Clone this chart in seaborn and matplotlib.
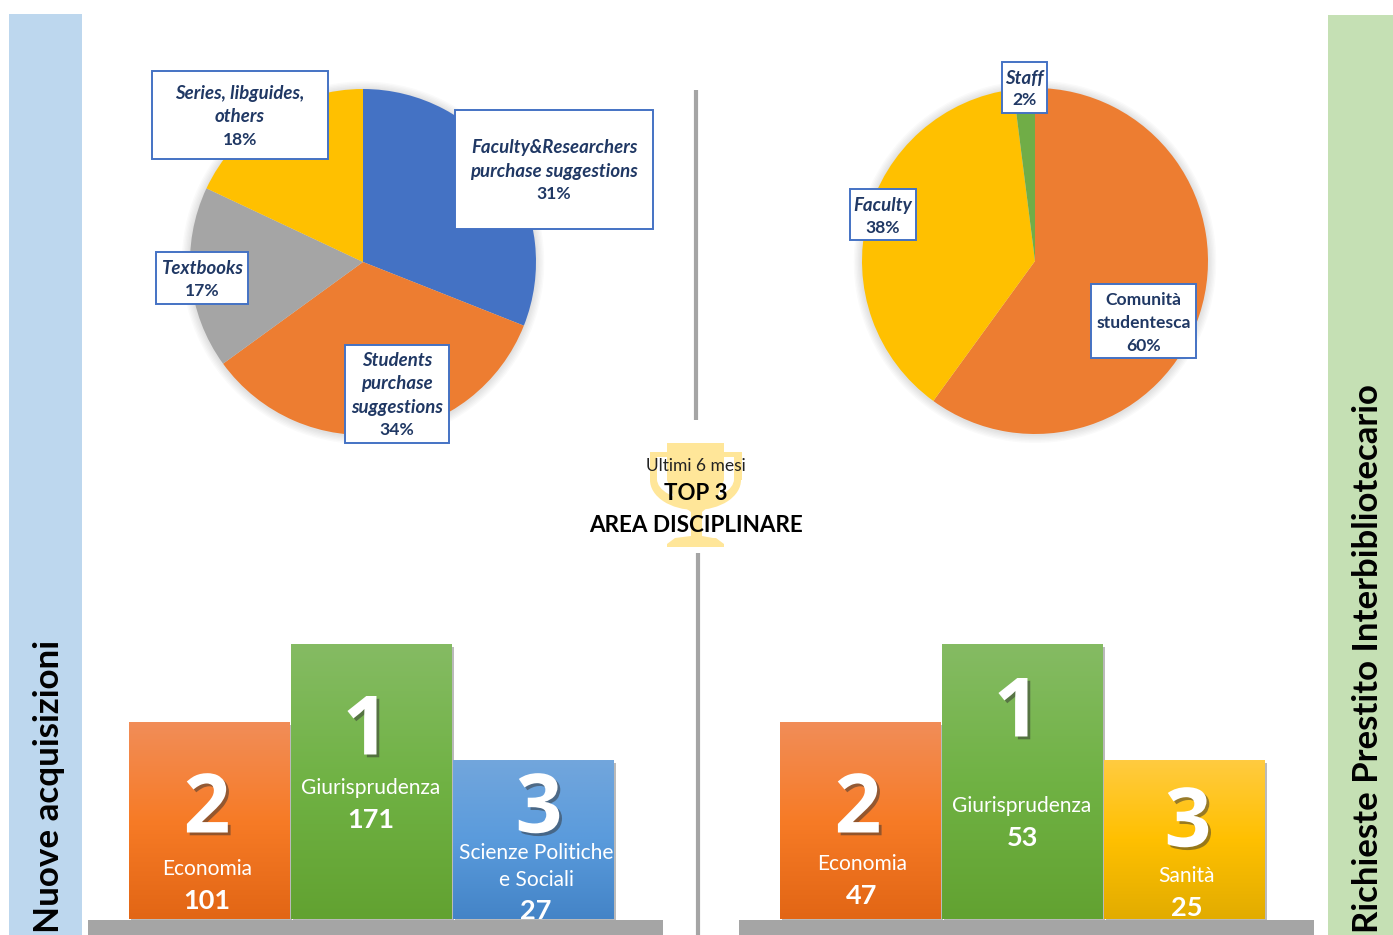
import numpy as np
import pandas as pd
import matplotlib.pyplot as plt
import matplotlib.patheffects as pe
from matplotlib.colors import LinearSegmentedColormap
from matplotlib.patches import Circle, Polygon, Rectangle, Ellipse
import seaborn as sns

# pie data
acq_values = [31, 34, 17, 18]
acq_colors = ["#4472C4", "#ED7D31", "#A5A5A5", "#FFC000"]
ill_values = [60, 38, 2]
ill_colors = ["#ED7D31", "#FFC000", "#70AD47"]

# podium data
acq_areas = ["Economia", "Giurisprudenza", "Scienze Politiche e Sociali"]
acq_counts = [101, 171, 27]
ill_areas = ["Economia", "Giurisprudenza", "Sanità"]
ill_counts = [47, 53, 25]
podium_ranks = ["2", "1", "3"]
podium_levels = [197, 275, 159]

ORANGE = ["#F18D58", "#F77B26", "#E26615"]
GREEN = ["#85BB63", "#70B244", "#62A231"]
BLUE = ["#72A6DC", "#5A9BDC", "#4484C7"]
YELLOW = ["#FFCB40", "#FFC000", "#E2AC00"]

NAVY = "#203864"
BOX_EDGE = "#4472C4"
GREY = "#A5A5A5"
W, H = 1393, 935

sns.set_theme(style="white")
plt.rcParams["font.family"] = ["Lato", "DejaVu Sans"]

fig = plt.figure(figsize=(W / 100, H / 100), dpi=100, facecolor="white")


def px_axes(x0, y0, x1, y1, zorder=1):
    """axes placed with pixel corners, y counted from the top"""
    return fig.add_axes(
        [x0 / W, 1 - y1 / H, (x1 - x0) / W, (y1 - y0) / H], zorder=zorder
    )


def draw_pie(values, colors, cx, cy, r=173):
    pad = 1.12
    ax = px_axes(cx - r * pad, cy - r * pad, cx + r * pad, cy + r * pad)
    # soft shadow
    for k in range(6):
        ax.add_patch(Circle((0, -0.004), 1 + 0.008 * (6 - k), color="#000000", alpha=0.018, lw=0))
    ax.pie(values, colors=colors, startangle=90, counterclock=False, radius=1,
           wedgeprops={"linewidth": 0})
    ax.set_xlim(-pad, pad)
    ax.set_ylim(-pad, pad)
    ax.set_aspect("equal")
    ax.axis("off")


def draw_podium(areas, levels, gradients, x0, x1, bottom=919):
    ax = px_axes(x0, bottom - max(levels), x1, bottom, zorder=2)
    df = pd.DataFrame({"area": areas, "level": levels})
    sns.barplot(data=df, x="area", y="level", hue="area", dodge=False, legend=False,
                palette=[g[1] for g in gradients], saturation=1, width=0.99, linewidth=0, ax=ax)
    ax.set_xlim(-0.5, 2.5)
    ax.set_ylim(0, max(levels))
    for patch, grad in zip(ax.patches, gradients):
        cmap = LinearSegmentedColormap.from_list("bar", grad)
        bx, by = patch.get_x(), patch.get_y()
        bw, bh = patch.get_width(), patch.get_height()
        patch.set_clip_on(False)
        patch.set_path_effects(
            [pe.SimplePatchShadow(offset=(1.5, -2), shadow_rgbFace="#777777", alpha=0.5), pe.Normal()]
        )
        ax.imshow(np.linspace(0, 1, 128).reshape(-1, 1), cmap=cmap, aspect="auto",
                  extent=[bx, bx + bw, by, by + bh], zorder=3)
    ax.set_xlim(-0.5, 2.5)
    ax.set_ylim(0, max(levels))
    ax.axis("off")


draw_pie(acq_values, acq_colors, 363, 262)
draw_pie(ill_values, ill_colors, 1035, 261)
draw_podium(acq_areas, podium_levels, [ORANGE, GREEN, BLUE], 128.5, 614.5)
draw_podium(ill_areas, podium_levels, [ORANGE, GREEN, YELLOW], 779.5, 1265.5)

# overlay in pixel coordinates for everything that is not a chart mark
ov = fig.add_axes([0, 0, 1, 1], zorder=5, facecolor="none")
ov.set_xlim(0, W)
ov.set_ylim(H, 0)
ov.axis("off")

# side bands
ov.add_patch(Rectangle((9, 14), 73, H - 14, color="#BDD7EE", lw=0))
ov.add_patch(Rectangle((1328, 15), 65, H - 15, color="#C5E0B4", lw=0))
ov.text(49, 933, "Nuove acquisizioni", rotation=90, ha="center", va="bottom",
        fontsize=25.2, fontweight="bold", color="black", clip_on=True)
ov.text(1368, 933, "Richieste Prestito Interbibliotecario", rotation=90, ha="center", va="bottom",
        fontsize=25, fontweight="bold", color="black", clip_on=True)

# centre dividers
ov.plot([695.5, 695.5], [90, 420], color=GREY, lw=3, solid_capstyle="butt")
ov.plot([697.5, 697.5], [553, H], color=GREY, lw=3, solid_capstyle="butt")

# trophy
TROPHY = "#FFE699"
ov.add_patch(Ellipse((695.5, 480), 91, 60, color=TROPHY, lw=0))
ov.add_patch(Rectangle((650, 452), 91.5, 28, color=TROPHY, lw=0))
ov.add_patch(Rectangle((657, 457), 77, 22, color="white", lw=0))
ov.add_patch(Ellipse((695.5, 479), 77, 42, color="white", lw=0))
ov.add_patch(Polygon([(667, 443), (724, 443), (724, 480), (716, 500), (702, 512), (702, 536),
                      (713, 538), (716, 538), (724, 544), (724, 547), (667, 547), (667, 544),
                      (675, 538), (691, 536), (691, 512), (675, 500), (667, 480)],
                     color=TROPHY, lw=0))

ov.text(695.5, 466, "Ultimi 6 mesi", ha="center", va="center", fontsize=12.5, color="#222222")
ov.text(696, 493, "TOP 3", ha="center", va="center", fontsize=16, fontweight="bold", color="black")
ov.text(696, 525, "AREA DISCIPLINARE", ha="center", va="center", fontsize=16.2, fontweight="bold", color="black")


def label_box(x0, y0, x1, y1, lines, ys, italic=True):
    ov.add_patch(Rectangle((x0, y0), x1 - x0, y1 - y0, facecolor="white", edgecolor=BOX_EDGE, lw=1.4))
    cx = (x0 + x1) / 2
    for i, (txt, y) in enumerate(zip(lines, ys)):
        is_name = italic and i < len(lines) - 1
        ov.text(cx, y + 1, txt, ha="center", va="center", fontsize=13.4 if is_name else 12.6,
                fontweight="bold", fontstyle="italic" if is_name else "normal", color=NAVY)


label_box(152, 71, 328, 159, ["Series, libguides,", "others", "18%"], [93, 116, 139])
label_box(455, 110, 653, 229, ["Faculty&Researchers", "purchase suggestions", "31%"], [147, 170, 193])
label_box(156, 252, 248, 304, ["Textbooks", "17%"], [267, 290])
label_box(345, 345, 449, 443, ["Students", "purchase", "suggestions", "34%"], [360, 383, 406, 429])
label_box(1002, 62, 1047, 113, ["Staff", "2%"], [77, 99])
label_box(850, 189, 916, 240, ["Faculty", "38%"], [204, 227])
label_box(1091, 284, 1196, 358, ["Comunità", "studentesca", "60%"], [299, 322, 345], italic=False)

# podium text
digit_fx = [pe.withSimplePatchShadow(offset=(2, -2), shadow_rgbFace="#333333", alpha=0.5)]


def podium_text(rank_x, rank_y, rank, cx, area_lines, area_ys, count, count_y):
    ov.text(rank_x, rank_y, rank, ha="center", va="center", fontsize=59, fontweight="bold",
            family=["Open Sans", "DejaVu Sans"], color="white", path_effects=digit_fx)
    for txt, y in zip(area_lines, area_ys):
        ov.text(cx, y + 2, txt, ha="center", va="center", fontsize=15.1, color="white")
    ov.text(cx, count_y + 2, str(count), ha="center", va="center", fontsize=19.5, fontweight="bold", color="white")


podium_text(207, 811, podium_ranks[0], 207, [acq_areas[0]], [867], acq_counts[0], 899)
podium_text(366, 733, podium_ranks[1], 371, [acq_areas[1]], [786], acq_counts[1], 818)
podium_text(539, 811, podium_ranks[2], 536, ["Scienze Politiche", "e Sociali"], [851, 878], acq_counts[2], 909)
podium_text(858, 811, podium_ranks[0], 862, [ill_areas[0]], [862], ill_counts[0], 894)
podium_text(1017, 715, podium_ranks[1], 1022, [ill_areas[1]], [804], ill_counts[1], 836)
podium_text(1188, 825, podium_ranks[2], 1187, [ill_areas[2]], [874], ill_counts[2], 906)

# floors sit over the clipped counts
ov.add_patch(Rectangle((88, 920), 575, 15, color=GREY, lw=0, zorder=6))
ov.add_patch(Rectangle((739, 920), 575, 15, color=GREY, lw=0, zorder=6))

fig.savefig("out.png", dpi=100)
plt.close(fig)
